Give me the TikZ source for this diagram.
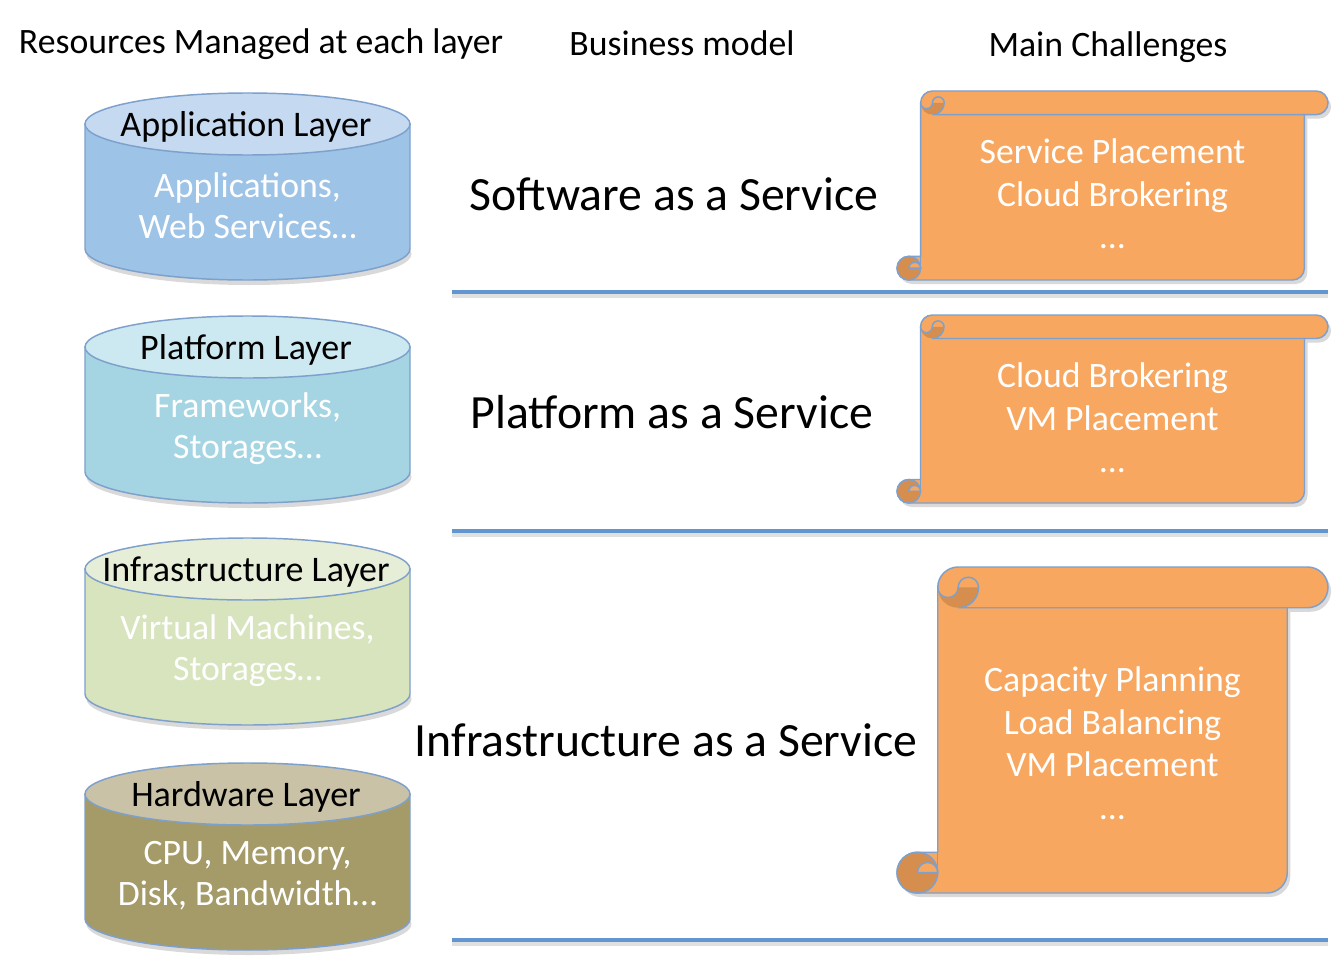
\documentclass[tikz,border=0pt]{standalone}
\usepackage{fontspec}
\setmainfont{Carlito}
\definecolor{appbody}{RGB}{157,195,230}
\definecolor{apptop}{RGB}{197,218,240}
\definecolor{platbody}{RGB}{165,213,226}
\definecolor{plattop}{RGB}{204,232,240}
\definecolor{infbody}{RGB}{215,228,189}
\definecolor{inftop}{RGB}{231,238,215}
\definecolor{hwbody}{RGB}{164,155,104}
\definecolor{hwtop}{RGB}{201,194,166}
\definecolor{rimblue}{RGB}{125,160,205}
\definecolor{scrollfill}{RGB}{247,167,95}
\definecolor{scrolldark}{RGB}{214,142,78}
\definecolor{lineblue}{RGB}{98,150,208}
\tikzset{
  hdr/.style={font=\fontsize{26.8}{32}\selectfont, text=black, inner sep=0pt},
  biz/.style={font=\fontsize{35.8}{42}\selectfont, text=black, inner sep=0pt},
  cyllabel/.style={font=\fontsize{27}{32}\selectfont, text=black, inner sep=0pt},
  cyltext/.style={font=\fontsize{26.8}{30.75}\selectfont, text=white, align=center, inner sep=0pt},
  scrolltext/.style={font=\fontsize{26.8}{31.9}\selectfont, text=white, align=center, inner sep=0pt},
  hline/.style={draw=lineblue, line width=3pt},
  hshadow/.style={draw=black!12, line width=3pt},
  rim/.style={draw=rimblue, line width=1.1pt},
}
\newcommand\layercyl[6]{%
  \pgfmathsetmacro\cyTy{#2+31}%
  \pgfmathsetmacro\cyBy{#2+156}%
  \fill[black, opacity=0.15] (249,\cyBy+5) ellipse[x radius=162.5, y radius=31];
  \filldraw[fill=#3, rim] (85,\cyTy) -- (85,\cyBy) arc[start angle=180, end angle=0, x radius=162.5, y radius=31] -- (410,\cyTy) -- cycle;
  \filldraw[fill=#4, rim] (247.5,\cyTy) ellipse[x radius=162.5, y radius=31];
  \node[cyllabel] (#1-label) at (246,\cyTy+3) {#5};
  \node[cyltext] (#1-text) at (247.5,\cyTy+82) {#6};
}
\newcommand\scrollpath{(\skL+\skC,\skT+\skH) arc[start angle=180,end angle=270,radius=\skH] -- (\skR-\skH,\skT) arc[start angle=270,end angle=450,radius=\skH] -- (\skR-\skC,\skT+\skC) -- (\skR-\skC,\skB-\skH) arc[start angle=0,end angle=90,radius=\skH] -- (\skL+\skH,\skB) arc[start angle=90,end angle=270,radius=\skH] -- (\skL+\skC,\skB-\skC) -- cycle}
\newcommand\challengescroll[7]{%
  \pgfmathsetmacro\skL{#2}\pgfmathsetmacro\skT{#3}\pgfmathsetmacro\skR{#4}\pgfmathsetmacro\skB{#5}%
  \pgfmathsetmacro\skC{(\skB-\skT)/8}\pgfmathsetmacro\skH{\skC/2}\pgfmathsetmacro\skQ{\skC/4}%
  \begin{scope}[shift={(3,4)}]
    \fill[black, opacity=0.15] \scrollpath;
  \end{scope}
  \filldraw[fill=scrollfill, rim] \scrollpath;
  \pgfmathsetmacro\kx{\skL+\skC+\skH}\pgfmathsetmacro\ky{\skT+\skH}%
  \fill[scrolldark] (\kx+\skH,\ky) arc[start angle=0,end angle=180,radius=\skH] arc[start angle=180,end angle=0,radius=\skQ] -- cycle;
  \draw[rim] (\kx-\skH,\ky) arc[start angle=180,end angle=0,radius=\skQ] arc[start angle=180,end angle=360,radius=\skQ] arc[start angle=0,end angle=90,radius=\skH] -- (\skR-\skC,\skT+\skC);
  \pgfmathsetmacro\jx{\skL+\skH}\pgfmathsetmacro\jy{\skB-\skH}%
  \filldraw[fill=scrolldark, rim] (\jx,\jy) circle[radius=\skH];
  \fill[scrollfill] (\jx,\jy) arc[start angle=180,end angle=360,radius=\skQ] -- cycle;
  \draw[rim] (\jx,\jy) arc[start angle=180,end angle=360,radius=\skQ] -- (\jx,\jy);
  \draw[rim] (\skL+\skH,\skB-\skC) -- (\skL+\skC,\skB-\skC) -- (\skL+\skC,\skB-\skH);
  \node[scrolltext] (#1) at ({(\skL+\skR)/2},#6) {#7};
}
\begin{document}
\begin{tikzpicture}[x=0.75pt, y=-0.75pt]
\useasboundingbox[fill=white] (0,0) rectangle (1342,956);

% headers
\node[hdr] (h1) at (261,44) {Resources Managed at each layer};
\node[hdr] (h2) at (682,43) {Business model};
\node[hdr] (h3) at (1108,47) {Main Challenges};

% separator lines
\foreach \yy/\nm in {292/a, 531/b, 940/c} {
  \coordinate (\nm-west) at (452,\yy);
  \coordinate (\nm-east) at (1328,\yy);
  \draw[hshadow] ([yshift=-3pt]\nm-west) -- ([yshift=-3pt]\nm-east);
  \draw[hline] (\nm-west) -- (\nm-east);
}

% cylinders
\layercyl{app}{93}{appbody}{apptop}{Application Layer}{Applications,\\Web Services…}
\layercyl{plat}{316}{platbody}{plattop}{Platform Layer}{Frameworks,\\Storages…}
\layercyl{inf}{538}{infbody}{inftop}{Infrastructure Layer}{Virtual Machines,\\Storages…}
\layercyl{hw}{763}{hwbody}{hwtop}{Hardware Layer}{CPU, Memory,\\Disk, Bandwidth…}

% business models
\node[biz] (saas) at (674,194) {Software as a Service};
\node[biz] (paas) at (672,412) {Platform as a Service};
\node[biz] (iaas) at (666,740) {Infrastructure as a Service};

% scrolls
\challengescroll{s1}{897}{91}{1328}{280}{194}{Service Placement\\Cloud Brokering\\…}
\challengescroll{s2}{897}{315}{1328}{503}{418}{Cloud Brokering\\VM Placement\\…}
\challengescroll{s3}{897}{567}{1328}{893}{743}{Capacity Planning\\Load Balancing\\VM Placement\\…}
\end{tikzpicture}
\end{document}
